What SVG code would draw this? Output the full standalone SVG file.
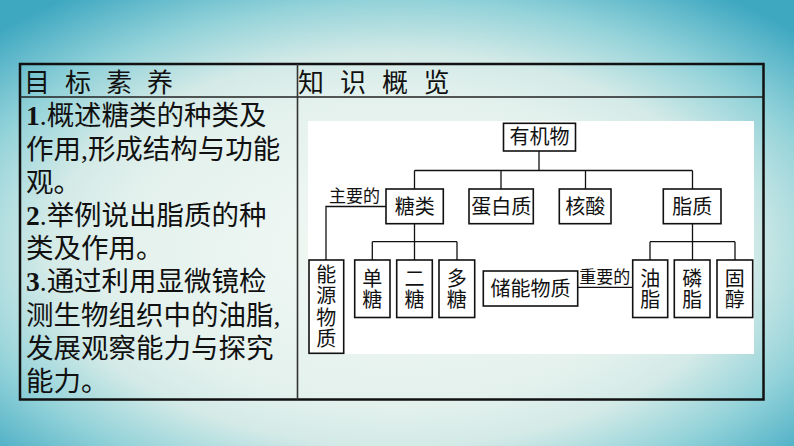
<svg xmlns="http://www.w3.org/2000/svg" width="794" height="446" viewBox="0 0 794 446">
<defs>
<radialGradient id="bg" cx="0.5" cy="0.56" r="0.7">
<stop offset="0" stop-color="#f4f9f5"/>
<stop offset="0.5" stop-color="#e3f1ed"/>
<stop offset="0.63" stop-color="#d3eae7"/>
<stop offset="0.8" stop-color="#92d2d9"/>
<stop offset="1" stop-color="#3fa8c1"/>
</radialGradient>
<style>
.cj{font-family:"Noto Sans CJK SC","Noto Sans",sans-serif;fill:#111;}
.hd{font-size:26px;}
.lt{font-size:27.5px;}
.num{font-family:"Liberation Serif",serif;font-weight:bold;}
.pt{font-family:"Liberation Serif",serif;}
.bx{fill:#fff;stroke:#111;stroke-width:1.6;}
.bt{font-size:20px;text-anchor:middle;}
.lb{font-size:17px;text-anchor:middle;}
.cn{fill:none;stroke:#111;stroke-width:1.3;}
</style>
</defs>
<rect width="794" height="446" fill="url(#bg)"/>

<g id="table">
<rect x="20" y="64" width="743.5" height="335.5" fill="none" stroke="#111" stroke-width="2.5"/>
<line x1="20" y1="97" x2="763.5" y2="97" stroke="#222" stroke-width="1.5"/>
<line x1="297.5" y1="64" x2="297.5" y2="399.5" stroke="#333" stroke-width="1.6"/>
<text class="cj hd" x="24 65 106 147" y="91.5">目标素养</text>
<text class="cj hd" x="298 340 382 423.5" y="91.5">知识概览</text>
</g>

<g id="goals" class="cj lt">
<text x="26" y="125.3"><tspan class="num">1</tspan><tspan class="pt">.</tspan>概述糖类的种类及</text>
<text x="26" y="158.5">作用<tspan class="pt">,</tspan>形成结构与功能</text>
<text x="26" y="191.7">观。</text>
<text x="26" y="224.9"><tspan class="num">2</tspan><tspan class="pt">.</tspan>举例说出脂质的种</text>
<text x="26" y="258.1">类及作用。</text>
<text x="26" y="291.3"><tspan class="num">3</tspan><tspan class="pt">.</tspan>通过利用显微镜检</text>
<text x="26" y="324.5">测生物组织中的油脂<tspan class="pt">,</tspan></text>
<text x="26" y="357.7">发展观察能力与探究</text>
<text x="26" y="390.9">能力。</text>
</g>

<rect id="panel" x="308" y="121" width="446" height="233" fill="#fff"/>

<g id="connectors" class="cn">
<path d="M539 151V170.5M414.5 170.5H692.5M414.5 170.5V189M501 170.5V189M585.5 170.5V189M692.5 170.5V189"/>
<path d="M414.5 223.7V241.7M372.3 241.7H457M372.3 241.7V260M414.5 241.7V260M457 241.7V260"/>
<path d="M692.5 223.7V241.7M650 241.7H735M650 241.7V260M692.5 241.7V260M735 241.7V260"/>
<path d="M386 206.5H326V260"/>
<path d="M577.7 287.3H632.7"/>
<text class="cj lb" x="354.5" y="202" stroke="none">主要的</text>
<text class="cj lb" x="604.7" y="282.5" stroke="none">重要的</text>
</g>

<g id="n-youjiwu"><rect class="bx" x="503.5" y="123.3" width="72" height="27.7"/><text class="cj bt" x="539.5" y="144.2">有机物</text></g>
<g id="n-tanglei"><rect class="bx" x="386" y="189" width="57.3" height="34.7"/><text class="cj bt" x="414.7" y="214">糖类</text></g>
<g id="n-danbaizhi"><rect class="bx" x="469" y="189" width="64.3" height="34.7"/><text class="cj bt" x="501.2" y="214">蛋白质</text></g>
<g id="n-hesuan"><rect class="bx" x="559.3" y="189" width="51.7" height="34.7"/><text class="cj bt" x="585.2" y="214">核酸</text></g>
<g id="n-zhizhi"><rect class="bx" x="663.3" y="189" width="57.7" height="34.7"/><text class="cj bt" x="692.2" y="214">脂质</text></g>

<g id="n-nengyuan"><rect class="bx" x="309" y="260" width="34.7" height="93.3"/>
<text class="cj bt" x="326.3"><tspan x="326.3" y="281.5">能</tspan><tspan x="326.3" y="303">源</tspan><tspan x="326.3" y="324.5">物</tspan><tspan x="326.3" y="346">质</tspan></text></g>
<g id="n-dantang"><rect class="bx" x="354.7" y="260" width="35.3" height="57.5"/>
<text class="cj bt"><tspan x="372.3" y="286">单</tspan><tspan x="372.3" y="307">糖</tspan></text></g>
<g id="n-ertang"><rect class="bx" x="396.7" y="260" width="35.6" height="57.5"/>
<text class="cj bt"><tspan x="414.5" y="286">二</tspan><tspan x="414.5" y="307">糖</tspan></text></g>
<g id="n-duotang"><rect class="bx" x="439" y="260" width="35.7" height="57.5"/>
<text class="cj bt"><tspan x="456.8" y="286">多</tspan><tspan x="456.8" y="307">糖</tspan></text></g>
<g id="n-chuneng"><rect class="bx" x="483.3" y="271" width="94.4" height="35"/><text class="cj bt" x="530.5" y="296">储能物质</text></g>
<g id="n-youzhi"><rect class="bx" x="632.7" y="260" width="35" height="57.5"/>
<text class="cj bt"><tspan x="650.2" y="286">油</tspan><tspan x="650.2" y="307">脂</tspan></text></g>
<g id="n-linzhi"><rect class="bx" x="674.3" y="260" width="35.7" height="57.5"/>
<text class="cj bt"><tspan x="692.2" y="286">磷</tspan><tspan x="692.2" y="307">脂</tspan></text></g>
<g id="n-guchun"><rect class="bx" x="717" y="260" width="35.7" height="57.5"/>
<text class="cj bt"><tspan x="734.8" y="286">固</tspan><tspan x="734.8" y="307">醇</tspan></text></g>
</svg>
